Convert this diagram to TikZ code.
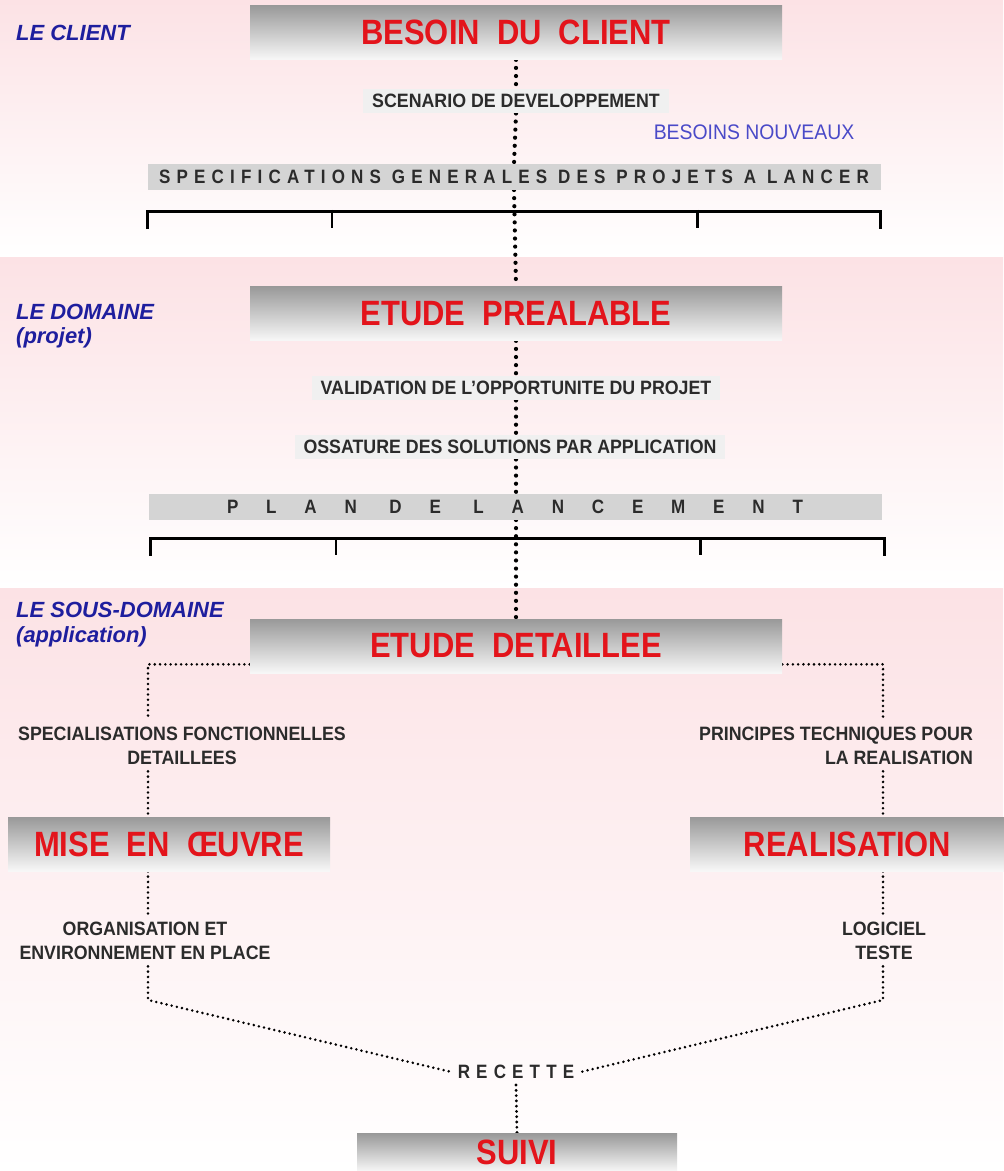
\documentclass[tikz,border=0pt]{standalone}
\usepackage{fontspec}
\setmainfont{Liberation Sans}
\newfontfamily\titlefont{Liberation Sans}[FakeStretch=0.88,WordSpace=2]
\newfontfamily\condfont{Liberation Sans}[FakeStretch=0.92]
\newfontfamily\spacedfont{Liberation Sans}[FakeStretch=0.88,LetterSpace=32]
\newfontfamily\widefont{Liberation Sans}[FakeStretch=0.88,LetterSpace=144]
\usepackage{tikz}
\usetikzlibrary{calc,positioning}
\pgfdeclarelayer{back}
\pgfdeclarelayer{links}
\pgfsetlayers{back,links,main}
\definecolor{titlered}{HTML}{E3141B}
\definecolor{levelblue}{HTML}{1E1E9E}
\definecolor{newblue}{HTML}{4A4AC8}
\definecolor{textgray}{HTML}{2B2B2B}
\definecolor{pinkbg}{HTML}{FCE2E5}

\begin{document}
\begin{tikzpicture}[
    stage/.style={minimum width=10.64cm,minimum height=1.08cm,
      top color=black!40,bottom color=black!3,text=titlered,
      font=\titlefont\bfseries\fontsize{20}{24}\selectfont},
    steplabel/.style={fill=black!6,text=textgray,inner xsep=5pt,inner ysep=3pt,
      font=\condfont\bfseries\fontsize{11}{13}\selectfont},
    note/.style={text=textgray,align=center,
      font=\condfont\bfseries\fontsize{11}{14}\selectfont},
    bar/.style={fill=black!17,minimum width=14.66cm,minimum height=0.5cm,
      text=textgray},
    level/.style={text=levelblue,align=left,
      font=\bfseries\itshape\fontsize{12.5}{14}\selectfont},
    bigdots/.style={line width=2.4pt,line cap=round,dash pattern=on 0pt off 4.6pt},
    meddots/.style={line width=1.8pt,line cap=round,dash pattern=on 0pt off 3pt},
    smalldots/.style={line width=1.6pt,line cap=round,dash pattern=on 0pt off 3pt},
    bracket/.style={line width=1.7pt}
  ]
    \useasboundingbox (0,0) rectangle (20.06,-23.42);
    % background bands
    \begin{pgfonlayer}{back}
      \shade[top color=pinkbg,bottom color=white] (0,0) rectangle (20.06,-5.16);
      \shade[top color=pinkbg,bottom color=white] (0,-5.16) rectangle (20.06,-11.76);
      \shade[top color=pinkbg,bottom color=white] (0,-11.76) rectangle (20.06,-23.42);
    \end{pgfonlayer}

    % le client
    \node[level,anchor=west] (client) at (0.2,-0.66) {LE CLIENT};
    \node[stage] (besoin) at (10.32,-0.65) {BESOIN DU CLIENT};
    \node[steplabel] (scenario) at (10.32,-2.02) {SCENARIO DE DEVELOPPEMENT};
    \node[text=newblue,font=\condfont\fontsize{12}{14}\selectfont] (nouveaux)
      at (15.08,-2.64) {BESOINS NOUVEAUX};
    \node[bar,font=\spacedfont\bfseries\fontsize{11}{13}\selectfont] (specs)
      at (10.28,-3.54) {SPECIFICATIONS GENERALES DES PROJETS A LANCER};
    \draw[bracket] ($(specs.south west)+(0,-0.78)$) |- ($(specs.south east)+(0,-0.42)$)
      -- ++(0,-0.36);
    \foreach \x in {6.64,13.94}
      \draw[bracket] (\x,-4.2) -- ++(0,-0.36);

    % le domaine
    \node[level,anchor=north west] (domaine) at (0.2,-5.95) {LE DOMAINE\\(projet)};
    \node[stage] (prealable) at (10.32,-6.27) {ETUDE PREALABLE};
    \node[steplabel] (validation) at (10.32,-7.76) {VALIDATION DE L’OPPORTUNITE DU PROJET};
    \node[steplabel] (ossature) at (10.2,-8.94) {OSSATURE DES SOLUTIONS PAR APPLICATION};
    \node[bar,font=\widefont\bfseries\fontsize{11}{13}\selectfont] (plan)
      at (10.3,-10.14) {PLAN DE LANCEMENT};
    \draw[bracket] ($(plan.south west)+(0.04,-0.71)$) |- ($(plan.south east)+(0.06,-0.37)$)
      -- ++(0,-0.34);
    \foreach \x in {6.72,14.0}
      \draw[bracket] (\x,-10.76) -- ++(0,-0.34);

    % le sous-domaine
    \node[level,anchor=north west] (sousdomaine) at (0.2,-11.92)
      {LE SOUS-DOMAINE\\(application)};
    \node[stage] (detaillee) at (10.32,-12.92) {ETUDE DETAILLEE};
    \node[note] (specfonc) at (3.64,-14.92) {SPECIALISATIONS FONCTIONNELLES\\DETAILLEES};
    \node[note,align=right] (principes) at (16.72,-14.92)
      {PRINCIPES TECHNIQUES POUR\\LA REALISATION};
    \node[stage,minimum width=6.44cm] (oeuvre) at (3.38,-16.88) {MISE EN ŒUVRE};
    \node[stage,minimum width=6.3cm] (realisation) at (16.95,-16.88) {REALISATION};
    \node[note] (orga) at (2.9,-18.82) {ORGANISATION ET\\ENVIRONNEMENT EN PLACE};
    \node[note] (logiciel) at (17.68,-18.82) {LOGICIEL\\TESTE};
    \node[text=textgray,font=\spacedfont\bfseries\fontsize{11}{13}\selectfont] (recette)
      at (10.32,-21.44) {RECETTE};
    \node[stage,minimum width=6.4cm,minimum height=0.76cm,inner ysep=0pt,anchor=north]
      (suivi) at (10.34,-22.66) {SUIVI};
    \coordinate (lcol) at (2.96,-20.0);
    \coordinate (rcol) at (17.66,-20.0);

    \begin{pgfonlayer}{links}
      % main axis
      \draw[bigdots] (besoin.south) -- (scenario.north);
      \draw[bigdots] (scenario.south) -- (specs.north);
      \draw[bigdots] (specs.south) -- (prealable.north);
      \draw[bigdots] (prealable.south) -- (validation.north);
      \draw[bigdots] (validation.south) -- (ossature.north -| validation);
      \draw[bigdots] (ossature.south -| validation) -- (plan.north -| validation);
      \draw[bigdots] (plan.south -| validation) -- (detaillee.north);

      % branches
      \draw[smalldots] ($(detaillee.south west)+(0,0.18)$) -| (specfonc.north -| lcol);
      \draw[smalldots] (specfonc.south -| lcol) -- (oeuvre.north -| lcol);
      \draw[smalldots] (oeuvre.south -| lcol) -- (orga.north -| lcol);
      \draw[smalldots] (orga.south -| lcol) -- (lcol) -- (recette.west);
      \draw[smalldots] ($(detaillee.south east)+(0,0.18)$) -| (principes.north -| rcol);
      \draw[smalldots] (principes.south -| rcol) -- (realisation.north -| rcol);
      \draw[smalldots] (realisation.south -| rcol) -- (logiciel.north -| rcol);
      \draw[smalldots] (logiciel.south -| rcol) -- (rcol) -- (recette.east);
      \draw[meddots] (recette.south) -- (suivi.north);
    \end{pgfonlayer}
\end{tikzpicture}
\end{document}
